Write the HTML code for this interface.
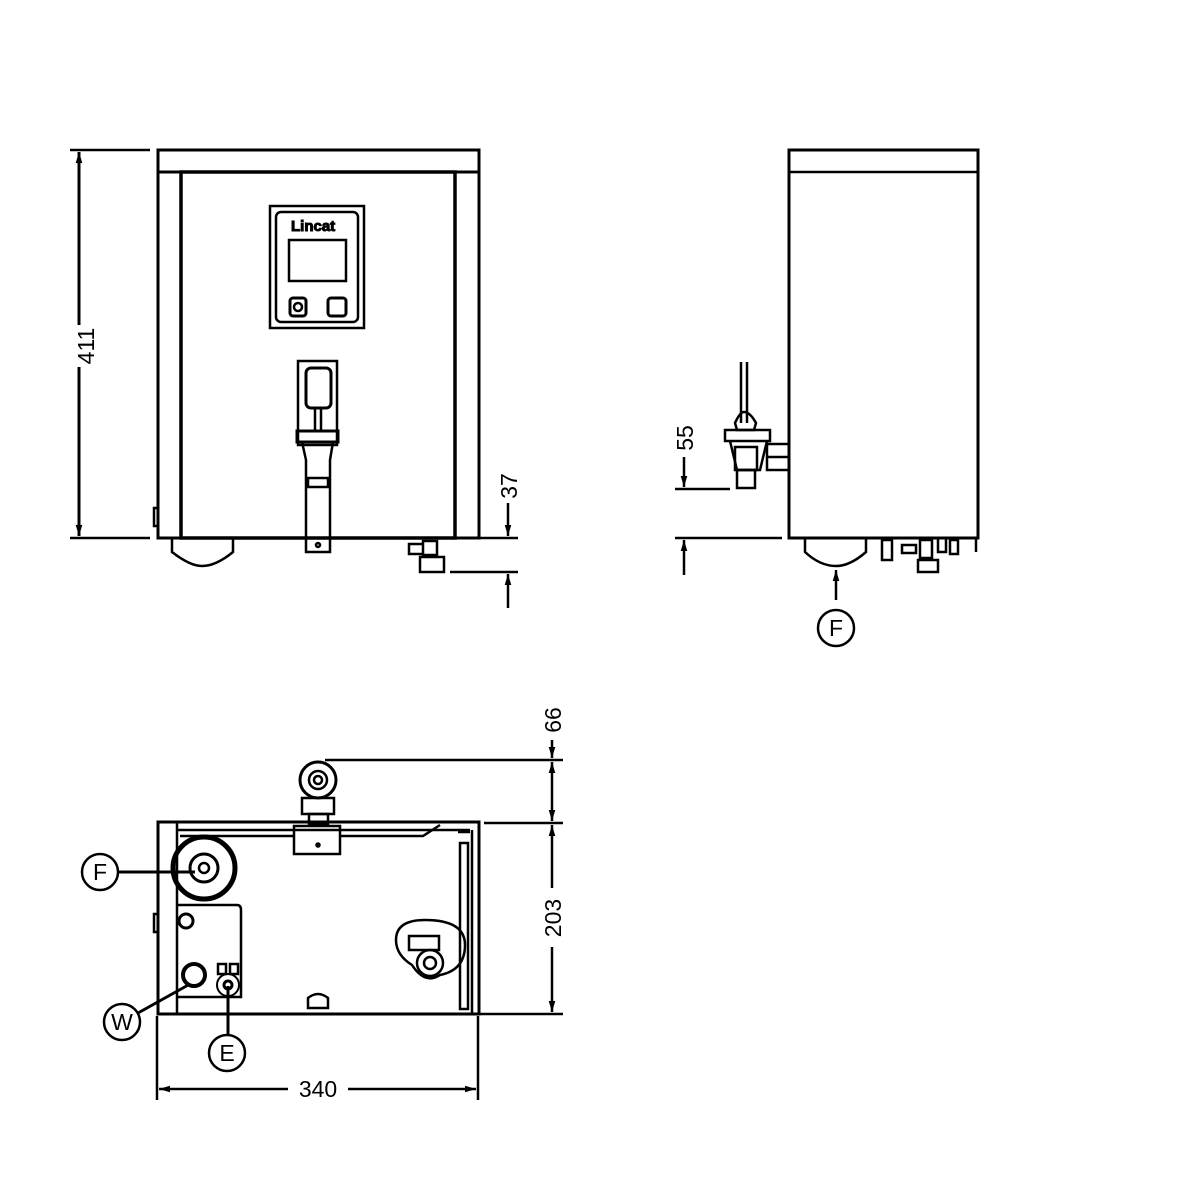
<!DOCTYPE html>
<html><head><meta charset="utf-8"><style>html,body{margin:0;padding:0;background:#fff}svg{display:block}text{font-family:"Liberation Sans",sans-serif;font-size:23px;fill:#000}</style></head><body>
<svg width="1182" height="1181" viewBox="0 0 1182 1181" xmlns="http://www.w3.org/2000/svg">
<defs>
<marker id="a" viewBox="0 0 10 6" refX="10" refY="3" markerWidth="11" markerHeight="7" orient="auto" markerUnits="userSpaceOnUse"><path d="M0,0 L10,3 L0,6 z" fill="#000"/></marker>
</defs>
<g fill="none" stroke="#000" stroke-width="2.5">
<rect x="158" y="150" width="321" height="22" stroke-width="3"/>
<rect x="158" y="172" width="321" height="366" stroke-width="3"/>
<rect x="181" y="172" width="274" height="366" stroke-width="3.5"/>
<rect x="154" y="508" width="4" height="18"/>
<rect x="270" y="206" width="94" height="122"/>
<rect x="276" y="212" width="82" height="110" rx="5"/>
<rect x="289" y="240" width="57" height="41"/>
<rect x="290" y="298" width="16" height="18" rx="3" stroke-width="3"/>
<circle cx="298" cy="307" r="4"/>
<rect x="328" y="298" width="18" height="18" rx="3" stroke-width="3"/>
<rect x="298" y="361" width="39" height="84"/>
<rect x="306" y="368" width="25" height="40" rx="5" stroke-width="3"/>
<path d="M315 408v22M321 408v22"/>
<rect x="297" y="431" width="41" height="11" stroke-width="3"/>
<path d="M302 442 L306 460 L306 552 L330 552 L330 460 L333 442"/>
<rect x="308" y="478" width="20" height="9"/>
<circle cx="318" cy="545" r="2"/>
<path d="M172 538 V552 Q190 566 202 566 Q216 566 233 552 V538"/>
<path d="M409 544h14v10h-14zM423 541h14v14h-14zM420 557h24v15h-24z"/>
<path d="M70 150H150M70 538H150" />
<path d="M79 325V152" marker-end="url(#a)" stroke-width="3"/>
<path d="M79 367V536" marker-end="url(#a)" stroke-width="3"/>
<path d="M480 538H518M450 572H518"/>
<path d="M508 503V536" marker-end="url(#a)"/>
<path d="M508 608V574" marker-end="url(#a)"/>
<rect x="789" y="150" width="189" height="388" stroke-width="3"/>
<path d="M789 172H978" stroke-width="2.5"/>
<path d="M741 362V423M747 362V423"/>
<path d="M735 423 Q740 412 744 412 Q750 412 756 423 L754 430 L737 430z"/>
<rect x="725" y="430" width="45" height="11"/>
<path d="M730 441 L737 470 L760 470 L767 441"/>
<rect x="735" y="447" width="22" height="23"/>
<rect x="737" y="470" width="18" height="18"/>
<rect x="767" y="444" width="22" height="26"/>
<path d="M767 457H789"/>
<path d="M805 538V552Q820 566 836 566Q850 566 866 552V538"/>
<rect x="882" y="540" width="10" height="20"/>
<path d="M902 545h14v8h-14zM920 540h12v18h-12zM918 560h20v12h-20zM938 538v14h8v-14zM950 540h8v14h-8z"/>
<path d="M976 538V552"/>
<path d="M675 489H730M675 538H782"/>
<path d="M684 457V487" marker-end="url(#a)"/>
<path d="M684 575V540" marker-end="url(#a)"/>
<path d="M836 600V570" marker-end="url(#a)"/>
<circle cx="836" cy="628" r="18"/>
<rect x="158" y="822" width="321" height="192" stroke-width="3"/>
<path d="M177 822V1014M472 830V1014M177 830H470" />
<path d="M180 836H294M340 836H423L440 825M458 832H470" />
<rect x="294" y="826" width="46" height="28"/>
<circle cx="318" cy="845" r="1.5"/>
<rect x="460" y="843" width="8" height="166"/>
<circle cx="318" cy="780" r="18" stroke-width="3"/>
<circle cx="318" cy="780" r="9"/>
<circle cx="318" cy="780" r="4"/>
<rect x="302" y="798" width="32" height="16" stroke-width="2.5"/>
<rect x="309" y="814" width="19" height="10"/>
<circle cx="204" cy="868" r="31" stroke-width="5"/>
<circle cx="204" cy="868" r="14" stroke-width="3"/>
<circle cx="204" cy="868" r="5"/>
<path d="M177 905H237Q241 905 241 910V997H177"/>
<circle cx="186" cy="921" r="7" stroke-width="3"/>
<circle cx="194" cy="975" r="11" stroke-width="4"/>
<circle cx="228" cy="985" r="11" stroke-width="2"/>
<circle cx="228" cy="985" r="4" stroke-width="3"/>
<rect x="218" y="964" width="8" height="10"/><rect x="230" y="964" width="8" height="10"/>
<path d="M308 1008V998Q318 990 328 998V1008z"/>
<path d="M396 940Q396 920 425 920Q465 920 465 945Q465 970 440 975Q425 985 412 965Q396 955 396 940z"/>
<rect x="409" y="936" width="30" height="14"/>
<circle cx="430" cy="963" r="13" stroke-width="2.5"/>
<circle cx="430" cy="963" r="6"/>
<rect x="154" y="914" width="4" height="18"/>
<circle cx="100" cy="872" r="18"/>
<path d="M118 872H195" stroke-width="3"/>
<circle cx="122" cy="1022" r="18"/>
<path d="M138 1013L190 984" stroke-width="3"/>
<circle cx="227" cy="1053" r="18"/>
<path d="M228 1035V986" stroke-width="3"/>
<path d="M325 760H563M484 823H563M480 1014H563"/>
<path d="M552 740V758" marker-end="url(#a)"/>
<path d="M552 800V762" marker-end="url(#a)"/>
<path d="M552 800V821" marker-end="url(#a)"/>
<path d="M552 888V825" marker-end="url(#a)"/>
<path d="M552 947V1012" marker-end="url(#a)"/>
<path d="M157 1016V1100M478 1016V1100"/>
<path d="M288 1089H159" marker-end="url(#a)"/>
<path d="M348 1089H476" marker-end="url(#a)"/>
</g>
<text x="291" y="231" style="font-size:15px;font-weight:bold" fill="none" stroke="#000" stroke-width="1">Lincat</text>
<text transform="translate(94,346) rotate(-90)" text-anchor="middle">411</text>
<text transform="translate(517,486) rotate(-90)" text-anchor="middle">37</text>
<text transform="translate(693,438) rotate(-90)" text-anchor="middle">55</text>
<text transform="translate(561,720) rotate(-90)" text-anchor="middle">66</text>
<text transform="translate(561,918) rotate(-90)" text-anchor="middle">203</text>
<text x="318" y="1097" text-anchor="middle">340</text>
<text x="836" y="636" text-anchor="middle">F</text>
<text x="100" y="880" text-anchor="middle">F</text>
<text x="122" y="1030" text-anchor="middle">W</text>
<text x="227" y="1061" text-anchor="middle">E</text>
</svg>
</body></html>
